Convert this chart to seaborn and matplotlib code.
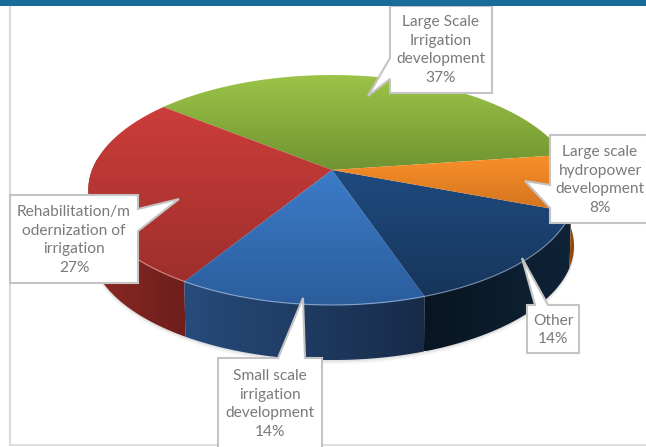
import numpy as np
import matplotlib
matplotlib.use("Agg")
import matplotlib.pyplot as plt
from matplotlib.patches import Polygon, Rectangle
import seaborn as sns

# Project shares, in percent, going counter-clockwise around the pie
categories = [
    "Large Scale\nIrrigation\ndevelopment",
    "Rehabilitation/m\nodernization of\nirrigation",
    "Small scale\nirrigation\ndevelopment",
    "Other",
    "Large scale\nhydropower\ndevelopment",
]
shares = [37, 27, 14, 14, 8]

# Top-face gradients (upper colour, lower colour)
top_colors = [("#9CC448", "#6F9431"), ("#CC3D3A", "#9E2F2C"), ("#3D7CC9", "#2B5D9C"),
              ("#1F4B80", "#16355B"), ("#FA9029", "#D2731F")]
# Side-wall gradients (left colour, right colour)
side_colors = [("#6F9431", "#5B7A28"), ("#8E2926", "#6E1E1B"), ("#274B7C", "#172B48"),
               ("#081522", "#0F2337"), ("#A85A14", "#7E430F")]

START_DEG = 8.0
CX, CY = 332.0, 170.0
RX, RY, PERSP = 240.0, 111.5, 0.174
WALL = 56.0

sns.set_theme(style="white")
plt.rcParams["font.family"] = ["Lato", "DejaVu Sans"]

fig = plt.figure(figsize=(6.46, 4.47), dpi=100, facecolor="white")
ax = fig.add_axes([0, 0, 1, 1])


def project(deg, drop=0.0, shrink=1.0):
    """Perspective projection of a point on the pie's rim (or its centre when deg is None)."""
    if deg is None:
        return np.array([[CX, CY + drop]])
    t = np.radians(deg)
    x, y = np.cos(t), -np.sin(t)
    w = 1 - PERSP * y
    return np.column_stack([CX + shrink * RX * x / w, CY + drop + shrink * RY * y / w])


def gradient_fill(poly_xy, colors, horizontal, zorder):
    cmap = sns.blend_palette(colors, as_cmap=True)
    x0, y0 = poly_xy.min(axis=0)
    x1, y1 = poly_xy.max(axis=0)
    ramp = np.linspace(0, 1, 256)
    ramp = ramp[None, :] if horizontal else ramp[:, None]
    img = ax.imshow(ramp, cmap=cmap, extent=(x0, x1, y1, y0), origin="upper",
                    aspect="auto", vmin=0, vmax=1, zorder=zorder, interpolation="bilinear")
    clip = Polygon(poly_xy, closed=True, transform=ax.transData, fc="none", ec="none")
    ax.add_patch(clip)
    img.set_clip_path(clip)


edges = START_DEG + np.concatenate([[0], np.cumsum(shares)]) * 3.6
arcs = [np.linspace(a, b, 120) for a, b in zip(edges[:-1], edges[1:])]

# Soft drop shadow under the wall
theta = np.linspace(190, 350, 200)
for grow, alpha in [(4.0, 0.05), (2.5, 0.08), (1.2, 0.12)]:
    ax.add_patch(Polygon(project(theta, WALL + grow, 0.995), closed=False, fc="#808080",
                         ec="none", alpha=alpha, zorder=1))

# Side walls first, so the top faces sit over their hidden back halves
for arc, cols in zip(arcs, side_colors):
    front = arc[np.sin(np.radians(arc)) < 0.12]
    if front.size < 2:
        continue
    wall = np.vstack([project(front), project(front[::-1], WALL, 0.993)])
    gradient_fill(wall, cols, True, 2)

# Top faces
for arc, cols in zip(arcs, top_colors):
    face = np.vstack([project(None), project(arc)])
    gradient_fill(face, cols, False, 3)

# Pale highlight along the front rim
for arc, cols in zip(arcs, top_colors):
    front = arc[np.sin(np.radians(arc)) < -0.3]
    if front.size > 1:
        xy = project(front)
        ax.plot(xy[:, 0], xy[:, 1], color=sns.light_palette(cols[0], 3)[1], lw=0.9,
                alpha=0.7, zorder=3.5)

# Callouts: box (x0, y0, x1, y1), pointer tip, pointer base on the box edge, text centre
callouts = [
    ((390, 6, 492, 93), (368, 96), [(390, 58), (390, 79)], (441, 50), 0),
    ((10, 195, 138, 283), (179, 199), [(138, 209), (138, 231)], (74, 240), 1),
    ((218, 358, 322, 452), (303, 298), [(278, 358), (305, 358)], (270, 404), 2),
    ((527, 305, 579, 353), (522, 258), [(535, 305), (548, 305)], (553, 330), 3),
    ((550, 135, 650, 223), (525, 181), [(550, 185), (550, 208)], (600, 180), 4),
]
for (x0, y0, x1, y1), tip, base, centre, i in callouts:
    # Walk the rectangle and splice the pointer into the edge that holds its base
    if base[0][1] == base[1][1]:
        if base[0][1] == y0:
            pts = [(x0, y0), base[0], tip, base[1], (x1, y0), (x1, y1), (x0, y1)]
        else:
            pts = [(x0, y0), (x1, y0), (x1, y1), base[1], tip, base[0], (x0, y1)]
    elif base[0][0] == x0:
        pts = [(x0, y0), (x1, y0), (x1, y1), (x0, y1), base[1], tip, base[0]]
    else:
        pts = [(x0, y0), (x1, y0), base[0], tip, base[1], (x1, y1), (x0, y1)]
    ax.add_patch(Polygon(pts, closed=True, fc="white", ec="#C4C4C4", lw=1.5,
                         joinstyle="miter", zorder=5))
    ax.text(centre[0], centre[1], f"{categories[i]}\n{shares[i]}%", ha="center", va="center",
            fontsize=11.2, color="#7A7A7A", linespacing=1.41, zorder=6)

# Slide frame: header band plus thin left and bottom rules
ax.add_patch(Rectangle((0, 0), 646, 6, fc="#176C9C", ec="none", zorder=7))
ax.plot([10, 10], [6, 445], color="#D9D9D9", lw=1.5, zorder=4)
ax.plot([10, 646], [445, 445], color="#D9D9D9", lw=1.2, zorder=4)

ax.set_xlim(0, 646)
ax.set_ylim(447, 0)
ax.axis("off")
fig.savefig("out.png", dpi=100)
